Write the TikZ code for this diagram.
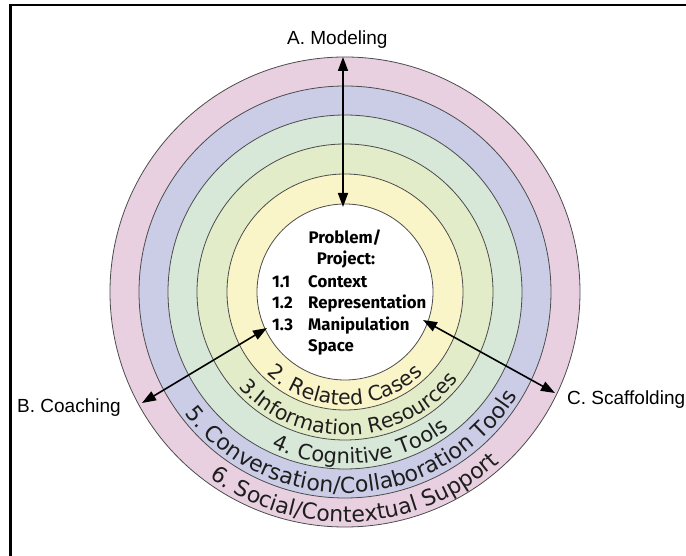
\documentclass[tikz,border=0pt]{standalone}
\usepackage{fontspec}
\setmainfont{Liberation Sans}
\newfontfamily\corefamily{Fira Sans}
\newfontfamily\ringfamily{DejaVu Sans}
\usetikzlibrary{decorations.text, arrows.meta}
\definecolor{ringsix}{RGB}{232,208,225}
\definecolor{ringfive}{RGB}{202,205,229}
\definecolor{ringfour}{RGB}{216,232,216}
\definecolor{ringthree}{RGB}{227,236,200}
\definecolor{ringtwo}{RGB}{250,245,200}
\definecolor{ringtext}{RGB}{30,30,30}
\newcommand\myringfont[1]{\ringfamily\fontsize{#1}{24}\selectfont}
\begin{document}
\begin{tikzpicture}[x=1pt,y=1pt,
  ring/.style={draw=black!70, line width=0.8pt},
  link/.style={line width=1.6pt, {Triangle[length=14pt,width=10pt]}-{Triangle[length=14pt,width=10pt]}},
  lbl/.style={font=\fontsize{19}{22}\selectfont, inner sep=0pt, anchor=base west},
  coreline/.style={font=\corefamily\bfseries\fontsize{16.8}{20}\selectfont, inner sep=0pt, anchor=base west},
  coretitle/.style={font=\corefamily\bfseries\fontsize{16.8}{20}\selectfont, inner sep=0pt, anchor=base},
  ringlabel/.style n args={2}{decorate, decoration={text along path, text align=center, text color=ringtext, text={|\myringfont{#1}|#2}}}
]
\useasboundingbox (-345,-264) rectangle (341,292);
% frame (top and left only)
\draw[line width=2.5pt] (-334.5,-270) -- (-334.5,287) -- (345,287);
% rings
\fill[ringsix] (0,0) circle[radius=235];
\draw[ring] (0,0) circle[radius=235];
\fill[ringfive] (0,0) circle[radius=206];
\draw[ring] (0,0) circle[radius=206];
\fill[ringfour] (0,0) circle[radius=177];
\draw[ring] (0,0) circle[radius=177];
\fill[ringthree] (0,0) circle[radius=148];
\draw[ring] (0,0) circle[radius=148];
\fill[ringtwo] (0,0) circle[radius=118];
\draw[ring] (0,0) circle[radius=118];
\node[circle, fill=white, draw=black!70, line width=0.8pt, minimum size=176pt, inner sep=0pt] (core) at (0,0) {};
% ring labels
\path[ringlabel={20.5}{2. Related Cases}] (-170:113) arc[start angle=-170, end angle=-10, radius=113];
\path[ringlabel={20.5}{3.Information Resources}] (-168:143) arc[start angle=-168, end angle=-8, radius=143];
\path[ringlabel={21}{4. Cognitive Tools}] (-164:172) arc[start angle=-164, end angle=-4, radius=172];
\path[ringlabel={22}{5. Conversation/Collaboration Tools}] (-167:201) arc[start angle=-167, end angle=-7, radius=201];
\path[ringlabel={22}{6. Social/Contextual Support}] (-167:230) arc[start angle=-167, end angle=-7, radius=230];
% core text
\node[coretitle] (t1) at (0,48) {Problem/};
\node[coretitle] (t2) at (1,27) {Project:};
\node[coreline] (n1) at (-73,4) {1.1};
\node[coreline] (w1) at (-37,4) {Context};
\node[coreline] (n2) at (-73,-17) {1.2};
\node[coreline] (w2) at (-37,-17) {Representation};
\node[coreline] (n3) at (-73,-39) {1.3};
\node[coreline] (w3) at (-37,-39) {Manipulation};
\node[coreline] (w4) at (-37,-60) {Space};
% outer labels
\node[lbl] (modeling) at (-58,247) {A. Modeling};
\node[lbl] (coaching) at (-328,-121) {B. Coaching};
\node[lbl] (scaffolding) at (222,-113) {C. Scaffolding};
% arrow end points
\coordinate (aOut) at (-2,235);
\coordinate (aIn) at (-2,85);
\coordinate (bOut) at (-203,-111);
\coordinate (bIn) at (-78,-36);
\coordinate (cOut) at (210,-101);
\coordinate (cIn) at (78,-28);
\draw[link] (aOut) -- (aIn);
\draw[link] (bOut) -- (bIn);
\draw[link] (cOut) -- (cIn);
\end{tikzpicture}
\end{document}
